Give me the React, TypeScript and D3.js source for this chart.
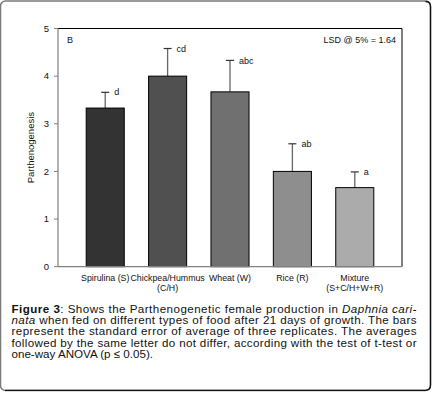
import React from "react";
import * as d3 from "d3";

const categories = ["Spirulina (S)", "Chickpea/Hummus\n(C/H)", "Wheat (W)", "Rice (R)", "Mixture\n(S+C/H+W+R)"];
const means = [3.33, 4.0, 3.67, 2.0, 1.66];
const errors = [0.33, 0.58, 0.66, 0.58, 0.33];
const letters = ["d", "cd", "abc", "ab", "a"];
const barColors = ["#333333", "#505050", "#707070", "#8e8e8e", "#ababab"];
const yTicks = [0, 1, 2, 3, 4, 5];

const W = 433, H = 393;
const FONT = "'Liberation Sans', Arial, sans-serif";

export default function App() {
  const x0 = 58, x1 = 402, yTop = 28.5, yBot = 266.7;
  const x = d3.scaleBand<string>().domain(categories).range([x0, x1]).paddingInner(0.39).paddingOuter(0.452);
  const y = d3.scaleLinear().domain([0, 5]).range([yBot, yTop]);
  const bw = x.bandwidth();

  return (
    <svg width={W} height={H} style={{ position: "absolute", left: 0, top: 0, background: "#fff" }} fontFamily={FONT}>
      {/* outer frame */}
      <rect x={0.5} y={1} width={430} height={389.5} rx={5} fill="#fff" stroke="#7a7a7a" strokeWidth={1.5} />
      <path d="M425.5,1.5 Q430.5,1.5 430.5,6.5 L430.5,385 Q430.5,390.3 425.5,390.3 L5,390.3" fill="none" stroke="#111" strokeWidth={1.3} />

      {/* plot frame top/right */}
      <line x1={x0} x2={x1} y1={yTop} y2={yTop} stroke="#000" strokeWidth={1} />
      <line x1={x1} x2={x1} y1={yTop} y2={yBot} stroke="#000" strokeWidth={1} />

      {/* bars */}
      {categories.map((c, i) => {
        const bx = x(c)!;
        const cx = bx + bw / 2;
        const ey = y(means[i] + errors[i]);
        return (
          <g key={c}>
            <line x1={cx} x2={cx} y1={y(means[i])} y2={ey} stroke="#666" strokeWidth={1.3} />
            <line x1={cx - 4} x2={cx + 4} y1={ey} y2={ey} stroke="#333" strokeWidth={1.2} />
            <rect x={bx} y={y(means[i])} width={bw} height={yBot - y(means[i])} fill={barColors[i]} stroke="#000" strokeWidth={1} />
            <text x={cx + 9} y={ey} dy="0.35em" fontSize={9} fill="#111">{letters[i]}</text>
          </g>
        );
      })}

      {/* axes */}
      <line x1={x0} x2={x0} y1={yTop} y2={yBot} stroke="#808080" strokeWidth={1.2} />
      <line x1={x0} x2={x1} y1={yBot} y2={yBot} stroke="#808080" strokeWidth={1.2} />
      {yTicks.map((t) => (
        <g key={t}>
          <line x1={x0 - 4} x2={x0} y1={y(t)} y2={y(t)} stroke="#808080" strokeWidth={1} />
          <text x={49} y={y(t)} dy="0.35em" textAnchor="end" fontSize={9.5} fill="#111">{t}</text>
        </g>
      ))}
      <text transform={`translate(31,${(yTop + yBot) / 2}) rotate(-90)`} textAnchor="middle" dy="0.35em" fontSize={9.5} fill="#111">Parthenogenesis</text>

      {categories.map((c) => {
        const cx = x(c)! + bw / 2;
        return c.split("\n").map((ln, j) => (
          <text key={c + j} x={cx} y={281 + j * 10} textAnchor="middle" fontSize={8.8} fill="#111">{ln}</text>
        ));
      })}

      <text x={70} y={40} dy="0.35em" textAnchor="middle" fontSize={9} fill="#111">B</text>
      <text x={396} y={40} dy="0.35em" textAnchor="end" fontSize={9} fill="#111">LSD @ 5% = 1.64</text>

      {/* caption */}
      <g fontSize={11.6} fill="#111">
        <text x={11.5} y={312.5} textLength={405} lengthAdjust="spacing">
          <tspan fontWeight="bold">Figure 3</tspan>: Shows the Parthenogenetic female production in <tspan fontStyle="italic">Daphnia cari-</tspan>
        </text>
        <text x={11.5} y={323.9} textLength={405} lengthAdjust="spacing">
          <tspan fontStyle="italic">nata</tspan> when fed on different types of food after 21 days of growth. The bars
        </text>
        <text x={11.5} y={335.3} textLength={405} lengthAdjust="spacing">
          represent the standard error of average of three replicates. The averages
        </text>
        <text x={11.5} y={346.7} textLength={405} lengthAdjust="spacing">
          followed by the same letter do not differ, according with the test of t-test or
        </text>
        <text x={11.5} y={358.1}>one-way ANOVA (p ≤ 0.05).</text>
      </g>
    </svg>
  );
}
